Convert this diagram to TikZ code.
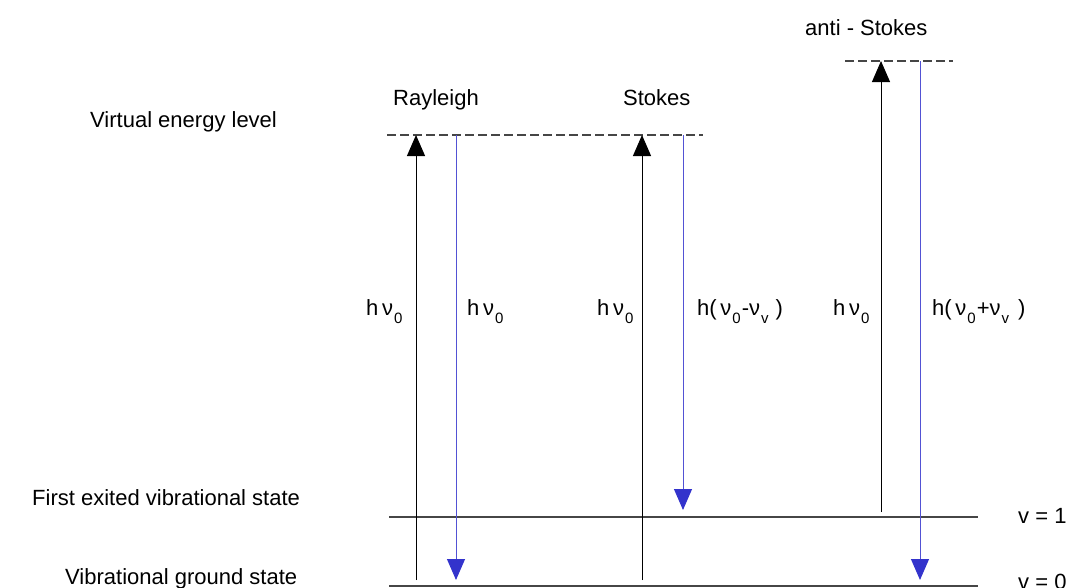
\documentclass[tikz,border=0pt]{standalone}
\usepackage{fontspec}
\setmainfont{Liberation Sans}
\usetikzlibrary{arrows.meta}
\definecolor{scatblue}{RGB}{51,51,204}
\definecolor{levelgray}{RGB}{70,70,70}
\newcommand{\idx}[1]{\kern1pt\raisebox{-8pt}{\fontsize{15}{15}\selectfont #1}\kern1pt}

\begin{document}
\begin{tikzpicture}[x=1pt, y=-1pt,
  every node/.style={inner sep=0pt, font=\fontsize{22}{26}\selectfont},
  level/.style={levelgray, line width=1.3pt},
  virt/.style={levelgray, line width=1.2pt, dash pattern=on 9pt off 4pt},
  pump/.style={black, line width=1pt, -{Triangle[width=18pt,length=21pt]}},
  scat/.style={scatblue!85, line width=1pt, -{Triangle[width=18pt,length=21pt,color=scatblue]}},
  lbl/.style={anchor=base west}]
  \useasboundingbox (0,0) rectangle (1069,587);

  % levels
  \coordinate (v0a) at (389,586);  \coordinate (v0b) at (978,586);
  \coordinate (v1a) at (389,517);  \coordinate (v1b) at (978,517);
  \coordinate (vra) at (387,135);  \coordinate (vrb) at (703,135);
  \coordinate (vaa) at (845,61);   \coordinate (vab) at (953,61);
  \draw[level] (v0a) -- (v0b);
  \draw[level] (v1a) -- (v1b);
  \draw[virt] (vra) -- (vrb);
  \draw[virt] (vaa) -- (vab);

  % text on the left
  \node[lbl] (virtlbl) at (90,127)  {Virtual energy level};
  \node[lbl] (firstlbl) at (32,505) {First exited vibrational state};
  \node[lbl] (groundlbl) at (65,584) {Vibrational ground state};
  \node[lbl] (vone) at (1018,523) {v = 1};
  \node[lbl] (vzero) at (1018,589) {v = 0};

  % headings
  \node[lbl] (rayl) at (393,105) {Rayleigh};
  \node[lbl] (stok) at (623,105) {Stokes};
  \node[lbl] (anti) at (805,35)  {anti - Stokes};

  % Rayleigh
  \coordinate (r1) at (416,580); \coordinate (r2) at (416,135);
  \coordinate (r3) at (456,135); \coordinate (r4) at (456,580);
  \draw[pump] (r1) -- (r2);
  \draw[scat] (r3) -- (r4);
  \node[lbl] (rin) at (366,315)  {h\,ν\idx{0}};
  \node[lbl] (rout) at (467,315) {h\,ν\idx{0}};

  % Stokes
  \coordinate (s1) at (642,580); \coordinate (s2) at (642,135);
  \coordinate (s3) at (683,135); \coordinate (s4) at (683,510);
  \draw[pump] (s1) -- (s2);
  \draw[scat] (s3) -- (s4);
  \node[lbl] (sin) at (597,315)  {h\,ν\idx{0}};
  \node[lbl] (sout) at (697,315) {h(\,ν\idx{0}-ν\idx{v}\hspace{6pt})};

  % anti-Stokes
  \coordinate (a1) at (881,512); \coordinate (a2) at (881,61);
  \coordinate (a3) at (920,61);  \coordinate (a4) at (920,580);
  \draw[pump] (a1) -- (a2);
  \draw[scat] (a3) -- (a4);
  \node[lbl] (ain) at (833,315)  {h\,ν\idx{0}};
  \node[lbl] (aout) at (932,315) {h(\,ν\idx{0}+ν\idx{v}\hspace{8pt})};
\end{tikzpicture}
\end{document}
